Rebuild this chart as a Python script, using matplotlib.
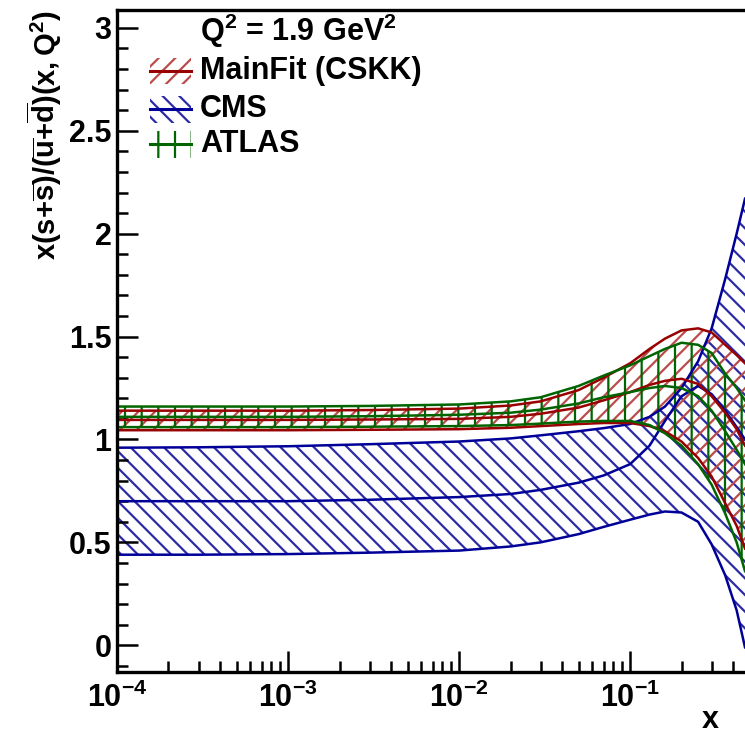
import matplotlib
matplotlib.use("Agg")
import matplotlib.pyplot as plt
from matplotlib.patches import Rectangle
from matplotlib.lines import Line2D
from matplotlib.ticker import MultipleLocator, FormatStrFormatter, LogLocator

plt.rcParams['font.family'] = ['Liberation Sans', 'DejaVu Sans']
plt.rcParams['font.weight'] = 'bold'
plt.rcParams['mathtext.fontset'] = 'custom'
plt.rcParams['mathtext.rm'] = 'Liberation Sans:bold'
plt.rcParams['mathtext.it'] = 'Liberation Sans:italic:bold'
plt.rcParams['mathtext.bf'] = 'Liberation Sans:bold'
plt.rcParams['mathtext.default'] = 'regular'
plt.rcParams['hatch.linewidth'] = 1.6

# x grid (shared by all bands)
x = [1e-4, 3e-4, 1e-3, 3e-3, 1e-2, 2e-2, 3e-2, 5e-2, 7e-2, 0.1,
     0.13, 0.16, 0.2, 0.25, 0.3, 0.36, 0.42, 0.47]

# MainFit (CSKK)
main_up = [1.14, 1.14, 1.14, 1.143, 1.15, 1.165, 1.185, 1.24, 1.30, 1.37,
           1.44, 1.49, 1.53, 1.54, 1.52, 1.46, 1.41, 1.37]
main_cen = [1.095, 1.095, 1.095, 1.097, 1.10, 1.11, 1.125, 1.155, 1.19, 1.23,
            1.265, 1.285, 1.295, 1.27, 1.21, 1.13, 1.05, 0.97]
main_lo = [1.045, 1.045, 1.045, 1.047, 1.05, 1.057, 1.065, 1.075, 1.08, 1.08,
           1.065, 1.04, 0.99, 0.91, 0.82, 0.69, 0.58, 0.47]

# CMS
cms_up = [0.96, 0.962, 0.967, 0.977, 0.99, 1.005, 1.02, 1.04, 1.055, 1.075,
          1.11, 1.16, 1.25, 1.38, 1.54, 1.78, 2.00, 2.17]
cms_cen = [0.70, 0.70, 0.70, 0.707, 0.72, 0.735, 0.755, 0.79, 0.825, 0.88,
           0.97, 1.09, 1.21, 1.26, 1.22, 1.14, 1.06, 1.00]
cms_lo = [0.44, 0.44, 0.443, 0.45, 0.46, 0.48, 0.50, 0.54, 0.575, 0.61,
          0.635, 0.65, 0.645, 0.60, 0.49, 0.34, 0.17, -0.01]

# ATLAS
atlas_up = [1.16, 1.16, 1.16, 1.163, 1.17, 1.185, 1.205, 1.26, 1.31, 1.36,
            1.405, 1.44, 1.47, 1.46, 1.42, 1.32, 1.25, 1.19]
atlas_cen = [1.11, 1.11, 1.11, 1.113, 1.12, 1.13, 1.145, 1.175, 1.205, 1.23,
             1.25, 1.26, 1.25, 1.21, 1.14, 1.04, 0.95, 0.88]
atlas_lo = [1.06, 1.06, 1.06, 1.062, 1.065, 1.07, 1.077, 1.087, 1.09, 1.09,
            1.07, 1.03, 0.97, 0.88, 0.78, 0.64, 0.50, 0.36]

labels = ['MainFit (CSKK)', 'CMS', 'ATLAS']
bands = [(main_lo, main_cen, main_up), (cms_lo, cms_cen, cms_up),
         (atlas_lo, atlas_cen, atlas_up)]
line_colors = ['#990000', '#000099', '#006400']
hatch_colors = ['#bb4c4c', '#2b2ba6', '#006400']
hatches = ['//', '\\\\', '|']
draw_order = [1, 0, 2]

fig = plt.figure(figsize=(7.45, 7.38), dpi=100)
ax = fig.add_axes([117 / 745, 66 / 738, 628 / 745, 662 / 738])

for i in draw_order:
    lo, cen, up = bands[i]
    ax.fill_between(x, lo, up, facecolor='none', edgecolor=hatch_colors[i],
                    hatch=hatches[i], linewidth=0)
    for curve in (lo, cen, up):
        ax.plot(x, curve, color=line_colors[i], lw=1.8)

ax.set_xscale('log')
ax.set_xlim(1e-4, 0.47)
ax.set_ylim(-0.13, 3.087)
ax.yaxis.set_major_locator(MultipleLocator(0.5))
ax.yaxis.set_minor_locator(MultipleLocator(0.1))
ax.yaxis.set_major_formatter(FormatStrFormatter('%g'))
ax.xaxis.set_major_locator(LogLocator(base=10, numticks=10))

ax.spines['right'].set_visible(False)
for side in ['left', 'bottom', 'top']:
    ax.spines[side].set_linewidth(2.4)

ax.tick_params(which='both', direction='in', top=False, right=False,
               width=1.8, labelsize=22)
ax.tick_params(which='major', length=15)
ax.tick_params(which='minor', length=8)
ax.tick_params(axis='y', pad=4)
ax.tick_params(axis='x', pad=8)

ax.text(-0.115, 1.0, r'$x(s{+}\overline{s})/(\overline{u}{+}\overline{d})(x, Q^{2})$',
        transform=ax.transAxes, rotation=90, ha='center', va='top', fontsize=21)
ax.text(0.944, -0.073, 'x', transform=ax.transAxes, ha='center', va='center',
        fontsize=22)

# legend
ax.text(0.132, 0.968, r'$Q^{2}$ = 1.9 GeV$^{2}$', transform=ax.transAxes,
        ha='left', va='center', fontsize=22)
row_y = [0.908, 0.850, 0.797]
for i in range(3):
    ax.add_patch(Rectangle((0.0525, row_y[i] - 0.02), 0.066, 0.04,
                           transform=ax.transAxes, facecolor='none',
                           edgecolor=hatch_colors[i], hatch=hatches[i],
                           linewidth=0, clip_on=False))
    ax.add_line(Line2D([0.0525, 0.1185], [row_y[i], row_y[i]],
                       transform=ax.transAxes, color=line_colors[i], lw=2.2))
    ax.text(0.132, row_y[i], labels[i], transform=ax.transAxes,
            ha='left', va='center', fontsize=22)

fig.savefig('out.png', dpi=100)
